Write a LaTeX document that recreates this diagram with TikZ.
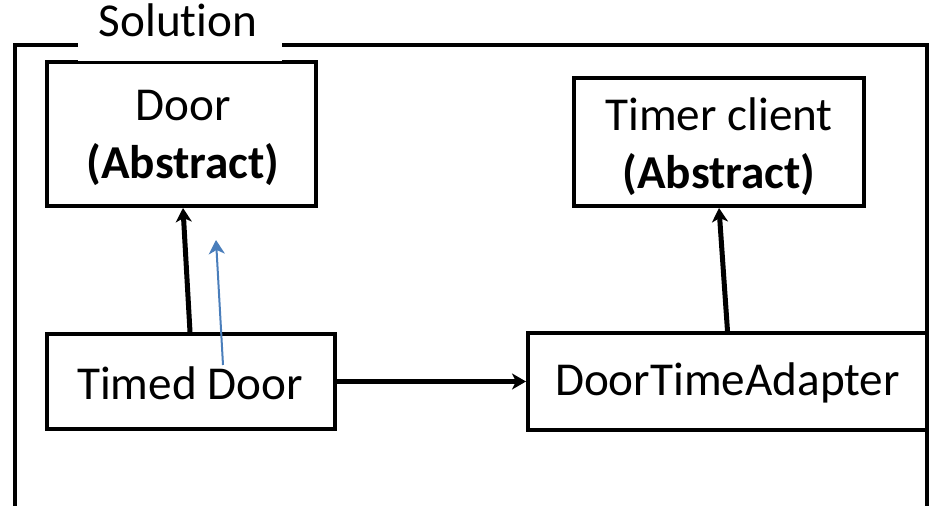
\documentclass[tikz,border=0pt]{standalone}
\usepackage{fontspec}
\setmainfont[Ligatures=NoCommon]{Carlito}
\usetikzlibrary{arrows.meta}
\definecolor{linkblue}{HTML}{4A7EBB}
\begin{document}
\begin{tikzpicture}[x=0.5pt,y=-0.5pt,
  every node/.style={font=\fontsize{23.6}{29}\selectfont},
  box/.style={draw=black, line width=2pt, rectangle, inner sep=0pt, fill=white},
  txt/.style={inner sep=0pt, align=center},
  frameline/.style={line width=2pt},
  assoc/.style={line width=2.5pt, -{Stealth[length=7pt,width=8pt,inset=2pt]}},
  thinlink/.style={linkblue, line width=1pt, -{Stealth[length=7pt,width=8pt,inset=2pt]}}]
  \useasboundingbox (0,0) rectangle (932,506);

  % outer frame, open at the bottom
  \draw[frameline] (15,506) -- (15,45) -- (927,45) -- (927,506);

  % classes
  \node[box, minimum width=134.5pt, minimum height=72pt] (door) at (181.5,134) {};
  \node[txt] (doortxt) at (183,138) {Door\\\textbf{(Abstract)}};
  \node[box, minimum width=145pt, minimum height=64pt] (timer) at (719,142) {};
  \node[txt] (timertxt) at (719,147) {Timer client\\\textbf{(Abstract)}};
  \node[box, minimum width=144pt, minimum height=47.5pt] (td) at (191,381.5) {};
  \node[txt] (tdtxt) at (190,383) {Timed Door};
  \node[box, minimum width=199.5pt, minimum height=48.5pt] (dta) at (727.5,381.5) {};
  \node[txt] (dtatxt) at (727.5,383) {DoorTimeAdapter};

  % title tab cutting the frame
  \fill[white] (78,0) rectangle (282,61);
  \node[anchor=base] (title) at (178,37) {Solution};

  % connectors
  \draw[assoc] ([xshift=-0.5pt]td.north) -- ([xshift=0.75pt]door.south);
  \draw[assoc] (dta.north) -- (timer.south);
  \draw[assoc] (td.east) -- (dta.west);

  \coordinate (bs) at (223,365);
  \coordinate (be) at (216,240);
  \draw[thinlink] (bs) -- (be);
\end{tikzpicture}
\end{document}
